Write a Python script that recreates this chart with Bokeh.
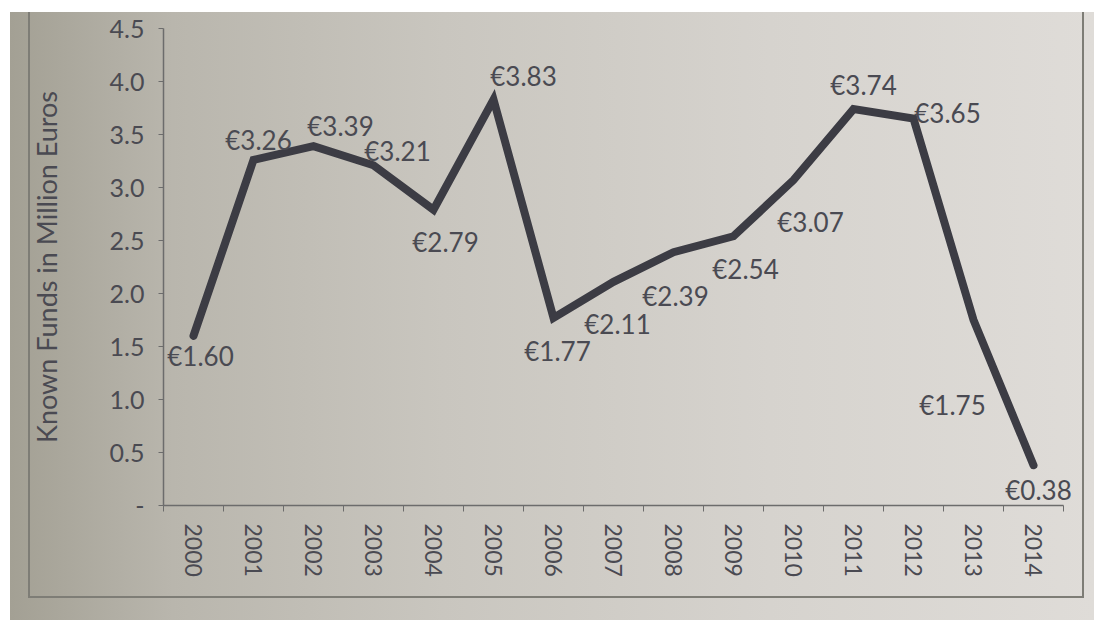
from math import pi
from bokeh.plotting import figure
from bokeh.models import FixedTicker, Range1d, ColumnDataSource
from bokeh.core.properties import value
from bokeh.embed import file_html
from bokeh.resources import INLINE

# ---- data ----
years = [2000, 2001, 2002, 2003, 2004, 2005, 2006, 2007, 2008, 2009, 2010, 2011, 2012, 2013, 2014]
funds = [1.60, 3.26, 3.39, 3.21, 2.79, 3.83, 1.77, 2.11, 2.39, 2.54, 3.07, 3.74, 3.65, 1.75, 0.38]
labels = ["€1.60", "€3.26", "€3.39", "€3.21", "€2.79", "€3.83", "€1.77", "€2.11", "€2.39",
          "€2.54", "€3.07", "€3.74", "€3.65", "€1.75", "€0.38"]
y_ticks = [0, 0.5, 1.0, 1.5, 2.0, 2.5, 3.0, 3.5, 4.0, 4.5]
y_tick_labels = ["-", "0.5", "1.0", "1.5", "2.0", "2.5", "3.0", "3.5", "4.0", "4.5"]

# ---- label placement (screen px, style only) ----
lab_dx = [7, 5, 27, 24, 12, 30, 4, 4, 2, 12, 17, 10, 34, -21, 5]
lab_dy = [20, -20, -20, -14, 32, -24, 33, 42, 44, 33, 42, -24, -6, 85, 25]

INK = "#3c3c44"
TXT = "#4a4a52"
AX = "#6c6c6c"
FRAME = "#7e7d76"
FONT = "Lato"

# printed-paper look: gradient plus thin frame lines (CSS on the figure host)
paper_css = ", ".join([
    f"linear-gradient({FRAME}, {FRAME}) no-repeat 18px 0px / 2px 586px",
    f"linear-gradient({FRAME}, {FRAME}) no-repeat 18px 584px / 1056px 2px",
    f"linear-gradient({FRAME}, {FRAME}) no-repeat 1072px 0px / 2px 586px",
    "linear-gradient(to right, #a3a094 0%, #b9b6ad 15%, #c9c6bf 40%, #d6d3ce 70%, #dfdcd8 100%)",
])

src = ColumnDataSource(dict(x=years, y=funds, t=labels, dx=lab_dx, dy=lab_dy))

p = figure(width=1084, height=608,
           x_range=Range1d(years[0] - 0.5, years[-1] + 0.85),
           y_range=Range1d(0, 4.5),
           output_backend="svg", toolbar_location=None,
           min_border_left=153, min_border_right=10,
           min_border_top=16, min_border_bottom=115)
p.styles = {"margin-left": "10px", "margin-top": "12px", "background": paper_css}

p.background_fill_color = None
p.border_fill_color = None
p.outline_line_color = None
p.grid.visible = False

p.line("x", "y", source=src, line_width=8, line_color=INK,
       line_join="miter", line_cap="round")
p.text("x", "y", text="t", source=src, x_offset="dx", y_offset="dy",
       text_align="center", text_baseline="middle",
       text_font=value(FONT), text_font_size="26px", text_color=TXT)

# y axis
p.yaxis.ticker = FixedTicker(ticks=y_ticks, minor_ticks=[])
p.yaxis.major_label_overrides = {t: l for t, l in zip(y_ticks, y_tick_labels)}
p.yaxis.axis_label = "Known Funds in Million Euros"
p.yaxis.axis_label_text_font = FONT
p.yaxis.axis_label_text_font_style = "normal"
p.yaxis.axis_label_text_font_size = "27px"
p.yaxis.axis_label_text_color = TXT
p.yaxis.axis_label_standoff = 44
p.yaxis.major_label_text_font = FONT
p.yaxis.major_label_text_font_size = "25px"
p.yaxis.major_label_text_color = TXT
p.yaxis.major_label_standoff = 14
p.yaxis.major_tick_out = 5
p.yaxis.major_tick_in = 0
p.yaxis.major_tick_line_color = AX
p.yaxis.axis_line_color = AX
p.yaxis.axis_line_width = 1.5

# x axis
p.xaxis.bounds = (years[0] - 0.5, years[-1] + 0.5)
p.xaxis.ticker = FixedTicker(ticks=years, minor_ticks=[y - 0.5 for y in years] + [years[-1] + 0.5])
p.xaxis.major_label_overrides = {y: str(y) for y in years}
p.xaxis.major_label_orientation = -pi / 2
p.xaxis.major_label_text_font = FONT
p.xaxis.major_label_text_font_size = "23px"
p.xaxis.major_label_text_color = TXT
p.xaxis.major_label_standoff = 12
p.xaxis.major_tick_line_color = None
p.xaxis.minor_tick_out = 6
p.xaxis.minor_tick_in = 0
p.xaxis.minor_tick_line_color = AX
p.xaxis.axis_line_color = AX
p.xaxis.axis_line_width = 1.5

open("out.html", "w").write(file_html(p, INLINE))
